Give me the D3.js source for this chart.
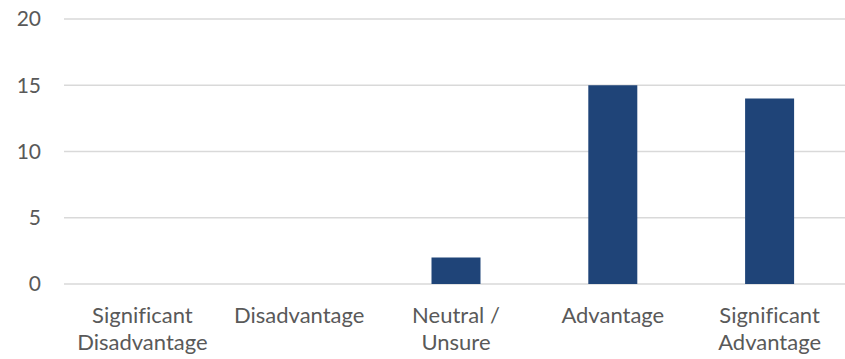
<!DOCTYPE html>
<html>
<head>
<meta charset="utf-8">
<script src="https://d3js.org/d3.v7.min.js"></script>
<style>
  body { margin: 0; background: #fff; }
  svg { display: block; }
  text { font-variant-ligatures: none; }
</style>
</head>
<body>
<div class="vis"></div>
<script>
  // chart data
  const categories = [
    ["Significant", "Disadvantage"],
    ["Disadvantage"],
    ["Neutral /", "Unsure"],
    ["Advantage"],
    ["Significant", "Advantage"]
  ];
  const counts = [0, 0, 2, 15, 14];
  const yTicks = [0, 5, 10, 15, 20];

  const width = 845, height = 359;
  const plotLeft = 64, plotRight = 848, plotTop = 19, plotBottom = 284;
  const font = "Lato, 'Open Sans', sans-serif";

  const svg = d3.select(".vis").append("svg")
    .attr("width", width)
    .attr("height", height);

  const x = d3.scaleBand()
    .domain(d3.range(categories.length))
    .range([plotLeft, plotRight])
    .paddingInner(0.6875)
    .paddingOuter(0.34375);

  const y = d3.scaleLinear()
    .domain([0, 20])
    .range([plotBottom, plotTop]);

  // gridlines
  svg.append("g")
    .selectAll("line")
    .data(yTicks)
    .join("line")
    .attr("x1", plotLeft)
    .attr("x2", plotRight)
    .attr("y1", d => y(d))
    .attr("y2", d => y(d))
    .attr("stroke", "#d9d9d9")
    .attr("stroke-width", 1.5);

  // y labels
  svg.append("g")
    .selectAll("text")
    .data(yTicks)
    .join("text")
    .attr("x", 41)
    .attr("y", d => y(d))
    .attr("dy", "0.35em")
    .attr("text-anchor", "end")
    .attr("font-family", font)
    .attr("font-size", 21)
    .attr("fill", "#595959")
    .text(d => d);

  // bars
  svg.append("g")
    .selectAll("rect")
    .data(counts)
    .join("rect")
    .attr("x", (d, i) => x(i))
    .attr("width", x.bandwidth())
    .attr("y", d => y(d))
    .attr("height", d => y(0) - y(d))
    .attr("fill", "#1f4478");

  // x labels
  const lab = svg.append("g")
    .selectAll("text")
    .data(categories)
    .join("text")
    .attr("text-anchor", "middle")
    .attr("font-family", font)
    .attr("font-size", 22)
    .attr("fill", "#595959");
  lab.selectAll("tspan")
    .data((d, i) => d.map(t => ({t, i})))
    .join("tspan")
    .attr("x", d => x(d.i) + x.bandwidth() / 2)
    .attr("y", (d, j) => 323 + j * 27)
    .text(d => d.t);
</script>
</body>
</html>
